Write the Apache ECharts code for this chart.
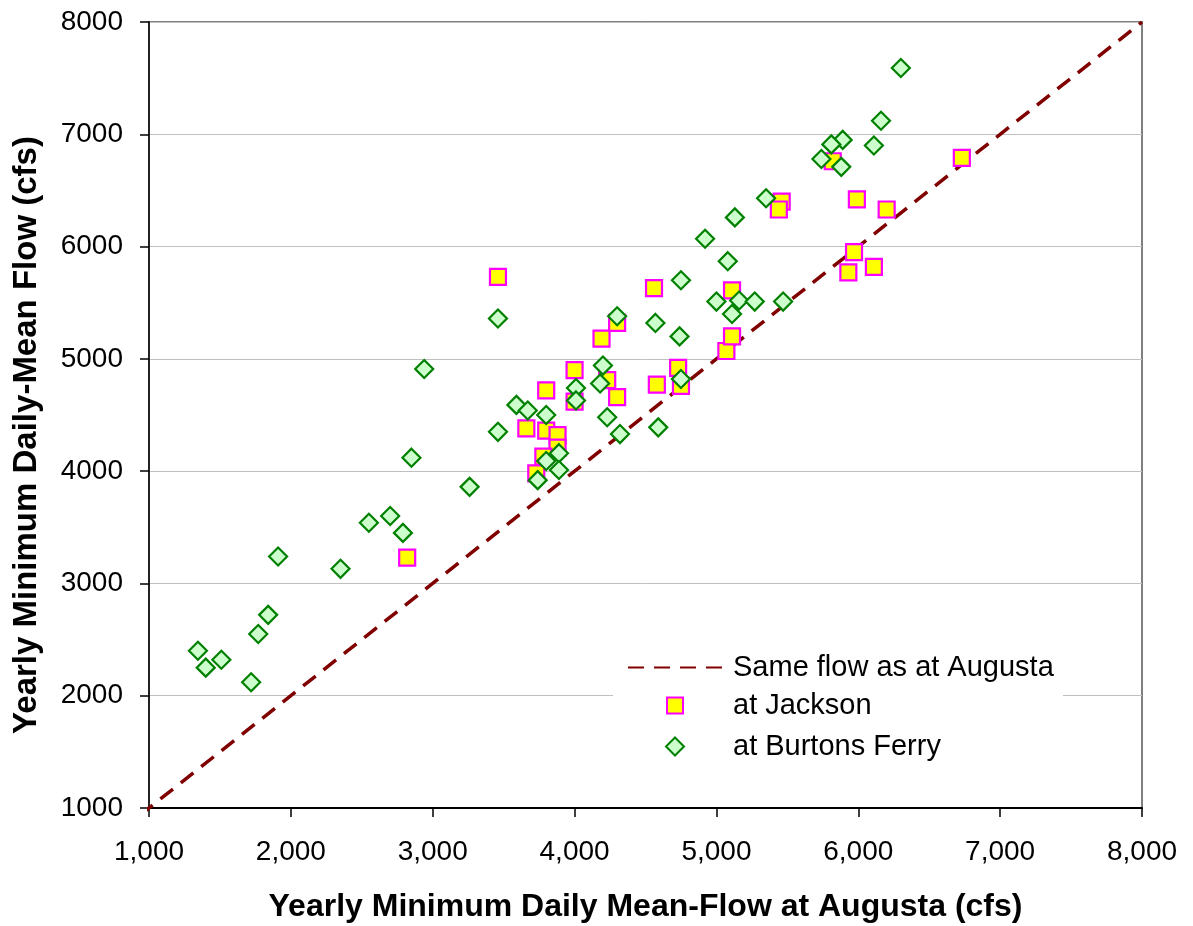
<!DOCTYPE html>
<html>
<head>
<meta charset="utf-8">
<script src="https://cdn.jsdelivr.net/npm/echarts@6/dist/echarts.min.js"></script>
<style>
html,body{margin:0;padding:0;background:#fff;}
#chart{width:1193px;height:926px;}
</style>
</head>
<body>
<div id="chart"></div>
<script>
// ---- Data ----
const sameFlowX = [935, 1000, 2000, 3000, 4000, 5000, 6000, 7000, 8000];
const sameFlowY = [940, 1000, 2000, 3000, 4000, 5000, 6000, 7000, 8000];

const jacksonX = [3460, 2820, 3800, 3660, 3800, 3880, 3880, 3780, 3730, 4000, 4000, 4230, 4300, 4190, 4300, 4560,
                  4580, 4730, 4750, 5070, 5110, 5110, 5460, 5440, 5820, 5990, 6200, 5970, 5930, 6110, 6730];
const jacksonY = [5730, 3230, 4720, 4380, 4360, 4320, 4210, 4130, 3980, 4900, 4620, 4810, 4660, 5180, 5320, 5630,
                  4770, 4920, 4760, 5070, 5200, 5610, 6400, 6330, 6760, 6420, 6330, 5950, 5770, 5820, 6790];

const burtonsX = [1345, 1400, 1510, 1720, 1770, 1840, 1910, 2350, 2550, 2700, 2790, 2850, 2940, 3260, 3460, 3460,
                  3590, 3670, 3800, 4010, 4010, 3800, 3890, 3890, 3740, 4200, 4180, 4230, 4320, 4300, 4570, 4740,
                  4750, 4590, 4750, 4920, 5080, 5000, 5160, 5270, 5110, 5470, 5130, 6300, 6160, 6110, 5890, 5810,
                  5740, 5880, 5350];
const burtonsY = [2400, 2250, 2320, 2120, 2550, 2720, 3240, 3130, 3540, 3600, 3450, 4120, 4910, 3860, 5360, 4350,
                  4590, 4540, 4500, 4740, 4630, 4090, 4160, 4010, 3920, 4940, 4780, 4480, 4330, 5380, 5320, 5200,
                  5700, 4390, 4820, 6070, 5870, 5510, 5520, 5510, 5400, 5510, 6260, 7590, 7120, 6900, 6950, 6910,
                  6780, 6710, 6430];

const seriesNames = ['Same flow as at Augusta', 'at Jackson', 'at Burtons Ferry'];
const xAxisTitle = 'Yearly Minimum Daily Mean-Flow at Augusta (cfs)';
const yAxisTitle = 'Yearly Minimum Daily-Mean Flow (cfs)';

// ---- Chart ----
const zip = (a, b) => a.map((v, i) => [v, b[i]]);
const FONT = "'Liberation Sans', Arial, sans-serif";

const chart = echarts.init(document.getElementById('chart'), null, {renderer: 'canvas'});

const option = {
  backgroundColor: '#ffffff',
  animation: false,
  textStyle: {fontFamily: FONT},
  grid: {
    left: 149, right: 51, top: 22, bottom: 118,
    show: true, borderColor: '#808080', borderWidth: 2,
    containLabel: false, outerBoundsMode: 'none'
  },
  xAxis: {
    type: 'value', min: 1000, max: 8000, interval: 1000,
    axisLine: {show: true, onZero: false, lineStyle: {color: '#000', width: 2}},
    axisTick: {show: true, inside: false, length: 9, lineStyle: {color: '#000', width: 1.5}},
    axisLabel: {
      color: '#000', fontSize: 28, fontFamily: FONT, margin: 30,
      formatter: v => v.toLocaleString('en-US')
    },
    splitLine: {show: false},
    name: xAxisTitle, nameLocation: 'middle', nameGap: 83,
    nameTextStyle: {color: '#000', fontSize: 32, fontWeight: 'bold', fontFamily: FONT}
  },
  yAxis: {
    type: 'value', min: 1000, max: 8000, interval: 1000,
    axisLine: {show: true, onZero: false, lineStyle: {color: '#222', width: 2}},
    axisTick: {show: true, inside: false, length: 9, lineStyle: {color: '#000', width: 1.5}},
    axisLabel: {color: '#000', fontSize: 28, fontFamily: FONT, margin: 26, formatter: v => String(v)},
    splitLine: {show: true, lineStyle: {color: '#c0c0c0', width: 1}},
    name: yAxisTitle, nameLocation: 'middle', nameGap: 106, nameRotate: 90,
    nameTextStyle: {color: '#000', fontSize: 33, fontWeight: 'bold', fontFamily: FONT, padding: [0, 40, 0, 0]}
  },
  graphic: {
    elements: [{
      type: 'rect', z: 3, silent: true,
      shape: {x: 613, y: 645, width: 450, height: 128},
      style: {fill: '#ffffff'}
    }]
  },
  legend: [
    {
      data: [{name: seriesNames[0]}], left: 622, top: 648, itemWidth: 96, itemHeight: 16,
      orient: 'vertical', z: 5,
      itemStyle: {color: 'rgba(0,0,0,0)', borderWidth: 0, opacity: 0},
      textStyle: {color: '#000', fontSize: 29, fontFamily: FONT, padding: [0, 0, 0, 4]}
    },
    {
      data: [{name: seriesNames[1], icon: 'rect'}], left: 661, top: 686, itemWidth: 16, itemHeight: 16,
      orient: 'vertical', z: 5,
      textStyle: {color: '#000', fontSize: 29, fontFamily: FONT, padding: [0, 0, 0, 45]}
    },
    {
      data: [{name: seriesNames[2], icon: 'diamond'}], left: 660, top: 727, itemWidth: 18, itemHeight: 18,
      orient: 'vertical', z: 5,
      textStyle: {color: '#000', fontSize: 29, fontFamily: FONT, padding: [0, 0, 0, 44]}
    }
  ],
  series: [
    {
      name: seriesNames[0], type: 'line', data: zip(sameFlowX, sameFlowY),
      symbol: 'none', showSymbol: false, clip: false, z: 1,
      lineStyle: {color: '#800000', width: 3.5, type: [16, 10]},
      itemStyle: {color: '#800000'}
    },
    {
      name: seriesNames[1], type: 'scatter', data: zip(jacksonX, jacksonY),
      symbol: 'rect', symbolSize: 16, z: 2,
      itemStyle: {color: '#ffff00', borderColor: '#ff00ff', borderWidth: 2.2, opacity: 1}
    },
    {
      name: seriesNames[2], type: 'scatter', data: zip(burtonsX, burtonsY),
      symbol: 'diamond', symbolSize: 18, z: 2,
      itemStyle: {color: '#ccffcc', borderColor: '#008000', borderWidth: 2.2, opacity: 1}
    }
  ]
};

chart.setOption(option);
</script>
</body>
</html>
